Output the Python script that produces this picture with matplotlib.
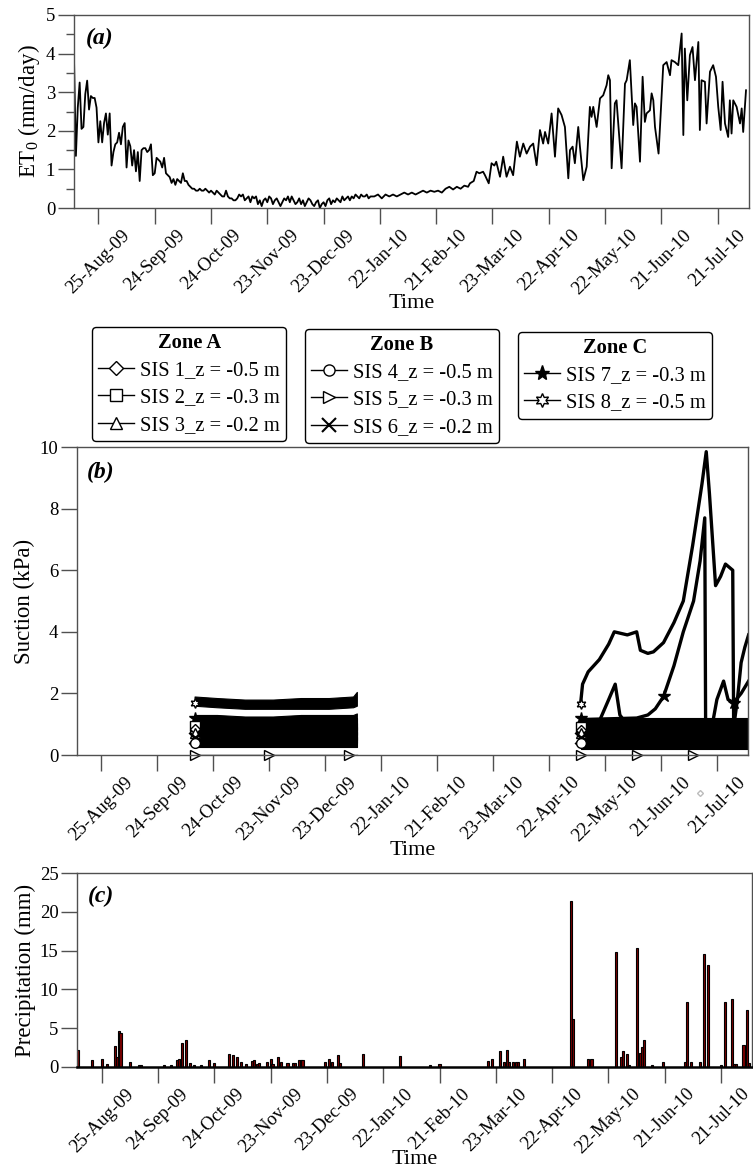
import numpy as np
import pandas as pd
import matplotlib
matplotlib.use("Agg")
import matplotlib.pyplot as plt
from matplotlib.lines import Line2D

plt.rcParams["font.family"] = ["Liberation Serif", "DejaVu Serif"]
plt.rcParams["mathtext.fontset"] = "custom"
plt.rcParams["mathtext.rm"] = "Liberation Serif"
plt.rcParams["mathtext.default"] = "regular"

# ---- data -------------------------------------------------------------
start = np.datetime64("2009-08-12")
x_end = 359.7
tick_dates = np.array(["2009-08-25", "2009-09-24", "2009-10-24", "2009-11-23",
                       "2009-12-23", "2010-01-22", "2010-02-21", "2010-03-23",
                       "2010-04-22", "2010-05-22", "2010-06-21", "2010-07-21"],
                      dtype="datetime64[D]")

# (a) reference evapotranspiration, days since 12-Aug-09
et_day = list(range(0, 159)) + [
    160, 162, 164, 166, 168, 170, 172, 174, 176, 178, 180, 182, 184, 186, 188,
    190, 192, 194, 196, 198, 200, 202, 204, 206, 208, 210, 211, 213, 214.5, 216,
    218, 219, 221, 222.5, 224, 225, 227, 228.7, 230.5, 232.3, 234, 236, 237.6,
    239.4, 241.2, 243, 244.7, 246.5, 248.3, 250, 251, 252.7, 254.5, 256.3, 258,
    259.8, 261.6, 263.4, 264.3, 265.7, 266.9, 268.7, 269.6, 271.4, 273.2, 274.9,
    275.8, 276.7, 278.5, 280.3, 282, 283.8, 284.7, 285.6, 286.5, 288.2, 289.1,
    291.8, 293.6, 294.5, 296.2, 298, 298.9, 299.8, 301.6, 303, 304.2, 305.1,
    306.9, 307.8, 308.7, 309.6, 311.5, 314, 315.8, 317.6, 318.4, 320.2, 322,
    323.8, 324.7, 325.5, 326.8, 328.2, 329.6, 330.9, 332.7, 333.5, 334.4, 336.2,
    337.1, 338.9, 340.6, 342.1, 343.3, 344.6, 345.6, 346.9, 348.6, 349.5, 350.4,
    351.3, 353.1, 354.9, 355.8, 356.6, 358.1]
et_val = [
    3.85, 1.35, 2.6, 3.25, 2.05, 2.1, 2.95, 3.3, 2.55, 2.9, 2.85, 2.85, 2.6, 1.7,
    2.25, 1.7, 2.2, 2.45, 1.9, 2.45, 1.1, 1.45, 1.65, 1.7, 1.95, 1.65, 2.1, 2.2,
    1.05, 1.75, 1.6, 1.1, 1.5, 0.95, 1.45, 0.7, 1.5, 1.55, 1.55, 1.45, 1.5, 1.65,
    0.85, 0.9, 1.3, 1.25, 1.2, 1.05, 1.3, 0.9, 0.85, 0.8, 0.65, 0.75, 0.6, 0.75,
    0.7, 0.65, 0.9, 0.7, 0.7, 0.6, 0.55, 0.5, 0.5, 0.45, 0.45, 0.5, 0.45, 0.45,
    0.5, 0.45, 0.4, 0.45, 0.4, 0.35, 0.45, 0.4, 0.35, 0.3, 0.3, 0.45, 0.3, 0.25,
    0.25, 0.2, 0.2, 0.25, 0.35, 0.3, 0.35, 0.2, 0.25, 0.3, 0.15, 0.3, 0.25, 0.3,
    0.1, 0.2, 0.05, 0.2, 0.25, 0.15, 0.3, 0.25, 0.1, 0.2, 0.25, 0.15, 0.05, 0.15,
    0.25, 0.2, 0.3, 0.15, 0.3, 0.2, 0.1, 0.15, 0.25, 0.1, 0.2, 0.05, 0.15, 0.25,
    0.2, 0.1, 0.05, 0.15, 0.2, 0.0, 0.1, 0.15, 0.05, 0.2, 0.25, 0.1, 0.2, 0.15,
    0.25, 0.2, 0.15, 0.3, 0.2, 0.25, 0.3, 0.2, 0.3, 0.25, 0.35, 0.3, 0.25, 0.35,
    0.3, 0.3, 0.35, 0.25, 0.3,
    0.3, 0.35, 0.25, 0.35, 0.3, 0.35, 0.3, 0.35, 0.4, 0.35, 0.4, 0.35, 0.4, 0.45,
    0.4, 0.45, 0.42, 0.45, 0.4, 0.5, 0.55, 0.48, 0.55, 0.5, 0.58, 0.55, 0.64, 0.7,
    0.94, 0.9, 0.94, 0.85, 0.64, 1.16, 1.1, 1.2, 0.81, 1.33, 0.81, 1.07, 0.85,
    1.72, 1.33, 1.67, 1.41, 1.59, 1.67, 1.11, 2.02, 1.67, 1.97, 1.67, 2.45, 1.33,
    2.58, 2.41, 2.1, 0.77, 1.5, 1.59, 1.16, 2.1, 1.59, 0.72, 1.07, 2.62, 2.36,
    2.62, 2.1, 2.84, 2.92, 3.18, 3.44, 3.31, 1.03, 2.71, 2.79, 1.03, 3.22, 3.31,
    3.83, 2.15, 2.71, 2.62, 1.2, 3.4, 2.23, 2.45, 2.53, 2.97, 2.79, 2.1, 1.41,
    3.7, 3.78, 3.44, 3.83, 3.78, 3.7, 4.52, 1.89, 4.13, 2.79, 3.96, 4.17, 3.31,
    4.3, 2.02, 3.31, 3.27, 2.19, 3.53, 3.7, 3.4, 2.62, 2.02, 3.27, 2.19, 1.84,
    2.79, 1.93, 2.79, 2.62, 2.19, 2.58, 1.97, 3.05]

# (b) suction; first logging period as bands of readings (low / high)
p1_day = [63, 75, 90, 105, 120, 135, 148, 150]
sis8_p1_lo = [1.6, 1.55, 1.5, 1.5, 1.5, 1.5, 1.55, 1.6]
sis8_p1_hi = [1.9, 1.85, 1.8, 1.8, 1.85, 1.85, 1.9, 2.05]
sis7_p1_lo = [1.0, 1.0, 1.0, 1.0, 1.0, 1.0, 1.0, 1.0]
sis7_p1_hi = [1.3, 1.3, 1.25, 1.25, 1.3, 1.3, 1.3, 1.35]
sis2_p1_lo = [0.8, 0.8, 0.8, 0.8, 0.8, 0.8, 0.8, 0.8]
sis2_p1_hi = [1.2, 1.2, 1.2, 1.2, 1.2, 1.2, 1.2, 1.2]
sis1_p1_lo = [0.65, 0.65, 0.65, 0.65, 0.65, 0.65, 0.65, 0.65]
sis1_p1_hi = [1.05, 1.05, 1.05, 1.05, 1.05, 1.05, 1.05, 1.05]
sis3_p1_lo = [0.5, 0.5, 0.5, 0.5, 0.5, 0.5, 0.5, 0.5]
sis3_p1_hi = [0.9, 0.9, 0.9, 0.9, 0.9, 0.9, 0.9, 0.9]
sis6_p1_lo = [0.4, 0.4, 0.4, 0.4, 0.4, 0.4, 0.4, 0.4]
sis6_p1_hi = [0.75, 0.75, 0.75, 0.75, 0.75, 0.75, 0.75, 0.75]
sis4_p1_lo = [0.25, 0.25, 0.25, 0.25, 0.25, 0.25, 0.25, 0.25]
sis4_p1_hi = [0.6, 0.6, 0.6, 0.6, 0.6, 0.6, 0.6, 0.6]
sis5_p1_val = [0.0, 0.0, 0.0, 0.0, 0.0, 0.0, 0.0, 0.0]

# second logging period
sis8_p2_day = [270, 271, 274, 280, 285, 288, 295, 300, 302, 306, 309, 314.4,
               320, 325, 330, 335, 337.3, 339, 342.3, 345, 347.6, 351.5, 352,
               354, 356, 358, 360]
sis8_p2_val = [1.7, 2.3, 2.7, 3.1, 3.6, 4.0, 3.9, 4.0, 3.4, 3.3, 3.35, 3.65,
               4.3, 5.0, 6.8, 8.8, 9.85, 8.5, 5.5, 5.8, 6.2, 6.0, 0.9, 1.8,
               3.0, 3.5, 3.9]
sis7_p2_day = [270, 300, 306, 310, 314.4, 320, 325, 330.5, 334, 336.5, 337,
               340, 343, 346.6, 349, 352, 356, 360]
sis7_p2_val = [1.15, 1.2, 1.3, 1.5, 1.9, 2.9, 4.0, 5.0, 6.3, 7.7, 0.5, 0.8,
               1.8, 2.4, 1.8, 1.7, 2.0, 2.4]
sis2_p2_day = [270, 280, 285, 288.5, 291, 294, 330, 360]
sis2_p2_val = [1.05, 1.1, 1.8, 2.3, 1.3, 1.05, 1.05, 1.05]
p2_day = [270, 300, 330, 360]
sis1_p2_val = [1.0, 1.0, 1.0, 1.0]
sis3_p2_val = [0.8, 0.8, 0.8, 0.8]
sis6_p2_val = [0.6, 0.6, 0.6, 0.6]
sis4_p2_val = [0.4, 0.4, 0.4, 0.4]
sis5_p2_val = [0.0, 0.0, 0.0, 0.0]

# (c) daily precipitation
rain_day = [0.5, 8, 13, 16, 20, 21, 22, 23, 28, 33, 34, 46, 50, 53, 54, 56, 58,
            60, 62, 66, 70, 73, 81, 83, 85, 87, 90, 93, 94, 95.5, 97, 101, 103,
            104, 107, 108.5, 112, 115, 116, 118, 119, 120, 132, 134, 135.5, 139,
            140, 152, 172, 188, 193, 219, 221, 225, 227.5, 229, 230, 232.4,
            233.8, 235, 238, 263, 264, 272, 274, 287, 290, 291, 293, 294, 298,
            300, 301, 302, 306, 312, 324, 325, 327, 332, 334, 336, 343, 345, 349,
            350, 351, 355, 357, 358]
rain_mm = [2.1, 0.85, 1.05, 0.3, 2.7, 1.2, 4.6, 4.3, 0.65, 0.25, 0.25, 0.25,
           0.25, 0.9, 1.05, 3.1, 3.5, 0.45, 0.2, 0.25, 0.85, 0.45, 1.65, 1.5,
           1.3, 0.65, 0.3, 0.7, 0.85, 0.3, 0.45, 0.65, 1.05, 0.3, 1.25, 0.65,
           0.45, 0.45, 0.45, 0.85, 0.85, 0.85, 0.65, 1.05, 0.65, 1.5, 0.5, 1.65,
           1.4, 0.2, 0.4, 0.8, 1.0, 2.0, 0.55, 2.2, 0.55, 0.55, 0.55, 0.55, 1.0,
           21.4, 6.2, 1.0, 1.0, 14.8, 1.2, 2.0, 1.6, 0.2, 15.4, 1.8, 2.6, 3.4,
           0.2, 0.6, 0.6, 8.3, 0.6, 0.6, 14.6, 13.1, 0.2, 8.4, 8.8, 0.4, 0.4,
           2.8, 7.3, 0.5]

# ---- figure -----------------------------------------------------------
tick_pos = (tick_dates - start).astype(float)
tick_labels = pd.to_datetime(tick_dates).strftime("%d-%b-%y")
FS = 13.5
AFS = 16.5
LFS = 14.8
SPINE = "#505050"

fig = plt.figure(figsize=(7.53, 11.7), dpi=100)
ax_a = fig.add_axes([0.0983, 0.8222, 0.8964, 0.1650])
ax_b = fig.add_axes([0.1023, 0.3547, 0.8911, 0.2632])
ax_c = fig.add_axes([0.1027, 0.0883, 0.8964, 0.1653])


def style(ax, ylim, yticks, ylabel, tag, tag_off, ypad=2, xpad=-3):
    ax.set_xlim(0, x_end)
    ax.set_ylim(*ylim)
    ax.set_yticks(yticks)
    ax.set_xticks(tick_pos)
    ax.set_xticklabels(tick_labels, rotation=45, ha="center", fontsize=FS)
    ax.tick_params(axis="both", direction="out", length=11.5, width=1,
                   color=SPINE, labelsize=FS, pad=2)
    for s in ax.spines.values():
        s.set_color(SPINE)
        s.set_linewidth(1)
    ax.set_xlabel("Time", fontsize=16, labelpad=xpad)
    ax.set_ylabel(ylabel, fontsize=AFS, labelpad=ypad)
    ax.annotate(tag, xy=(0, 1), xycoords="axes fraction", xytext=tag_off,
                textcoords="offset pixels", fontsize=17, fontweight="bold",
                fontstyle="italic", va="top", ha="left")


# (a)
ax_a.plot(et_day, et_val, color="k", lw=1.3)
style(ax_a, (0, 5), range(0, 6), "ET$_0$ (mm/day)", "(a)", (12, -13), 3)
ax_a.set_yticks(np.arange(0.5, 5, 1), minor=True)
ax_a.tick_params(axis="y", which="minor", length=5.5, width=1, color=SPINE)

# (b)
p1_bands = [(sis8_p1_lo, sis8_p1_hi), (sis7_p1_lo, sis7_p1_hi),
            (sis2_p1_lo, sis2_p1_hi), (sis1_p1_lo, sis1_p1_hi),
            (sis3_p1_lo, sis3_p1_hi), (sis6_p1_lo, sis6_p1_hi),
            (sis4_p1_lo, sis4_p1_hi)]
for lo, hi in p1_bands:
    ax_b.fill_between(p1_day, lo, hi, color="k", lw=0.8)
ax_b.plot(p1_day, sis5_p1_val, color="k", lw=1.0)

for d, v in [(sis8_p2_day, sis8_p2_val), (sis7_p2_day, sis7_p2_val),
             (sis2_p2_day, sis2_p2_val)]:
    ax_b.plot(d, v, color="k", lw=2.4, solid_joinstyle="round")
for v in [sis1_p2_val, sis3_p2_val, sis6_p2_val, sis4_p2_val]:
    ax_b.fill_between(p2_day, np.array(v) - 0.2, np.array(v) + 0.2, color="k",
                      lw=0.8)
ax_b.plot(p2_day, sis5_p2_val, color="k", lw=1.0)

mk = dict(color="k", mfc="white", mec="k", ms=7, lw=0, mew=1, clip_on=False)
ax_b.plot([p1_day[0], sis8_p2_day[0]], [sis8_p1_lo[0] + 0.1, 1.65],
          marker=(6, 1, 0), **mk)
ax_b.plot([p1_day[0], sis7_p2_day[0], 314.4, 352], [1.2, 1.2, 1.9, 1.7],
          marker="*", color="k", ms=9, lw=0, clip_on=False)
ax_b.plot([p1_day[0], 270], [0.95, 0.9], marker="s", **mk)
ax_b.plot([p1_day[0], 270], [0.85, 0.8], marker="D", **{**mk, "ms": 5})
ax_b.plot([p1_day[0], 270], [0.7, 0.7], marker="^", **mk)
ax_b.plot([p1_day[0], 270], [0.55, 0.55], marker="x", color="k", ms=8, mew=2,
          lw=0)
ax_b.plot([p1_day[0], 270], [0.4, 0.4], marker="o", **mk)
ax_b.plot([p1_day[0], 103, 146, 270, 300, 330], [0, 0, 0, 0, 0, 0],
          marker=">", **mk)
ax_b.plot([334], [-1.23], marker="D", color="#bbbbbb", mfc="white", ms=3,
          lw=0, clip_on=False)
style(ax_b, (0, 10), range(0, 11, 2), "Suction (kPa)", "(b)", (10, -15), 3)

# (c)
ax_c.bar(rain_day, rain_mm, width=1.1, color="#7a0000", edgecolor="k", lw=0.8)
style(ax_c, (0, 25), range(0, 26, 5), "Precipitation (mm)", "(c)", (10, -13),
      3, -5)
ax_c.spines["bottom"].set_color("k")
ax_c.spines["bottom"].set_linewidth(1.8)


# legends
def handle(m, ms=8, fill="white"):
    return Line2D([], [], color="k", lw=1, marker=m, ms=ms, mfc=fill, mec="k",
                  mew=1.5 if m == "x" else 1)


zones = [
    ("Zone A", [handle("D", 7), handle("s"), handle("^")],
     ["SIS 1_z = -0.5 m", "SIS 2_z = -0.3 m", "SIS 3_z = -0.2 m"],
     (92, 327)),
    ("Zone B", [handle("o"), handle(">"), handle("x", 10)],
     ["SIS 4_z = -0.5 m", "SIS 5_z = -0.3 m", "SIS 6_z = -0.2 m"],
     (305, 329)),
    ("Zone C", [handle("*", 11, "k"), handle((6, 1, 0), 10)],
     ["SIS 7_z = -0.3 m", "SIS 8_z = -0.5 m"],
     (518, 332)),
]
W, H = 753.0, 1170.0
legs = []
for title, hs, labs, (px, py) in zones:
    leg = fig.legend(hs, labs, loc="upper left",
                     bbox_to_anchor=(px / W, 1 - py / H),
                     bbox_transform=fig.transFigure, fontsize=LFS,
                     title=title, title_fontproperties={"weight": "bold",
                                                        "size": LFS},
                     frameon=True, fancybox=True, edgecolor="k",
                     framealpha=1, borderaxespad=0, borderpad=0.3,
                     handlelength=1.75, handletextpad=0.3, labelspacing=0.38)
    leg.get_frame().set_linewidth(1)
    legs.append(leg)

fig.canvas.draw()
inv = fig.transFigure.inverted()
for leg in legs:
    bb = leg.get_title().get_window_extent()
    (x0, y0), (x1, _) = inv.transform([(bb.x0, bb.y0 + 3), (bb.x1, bb.y0)])
    fig.add_artist(Line2D([x0, x1], [y0, y0], color="k", lw=1.3,
                          transform=fig.transFigure))

fig.savefig("out.png", dpi=100)
